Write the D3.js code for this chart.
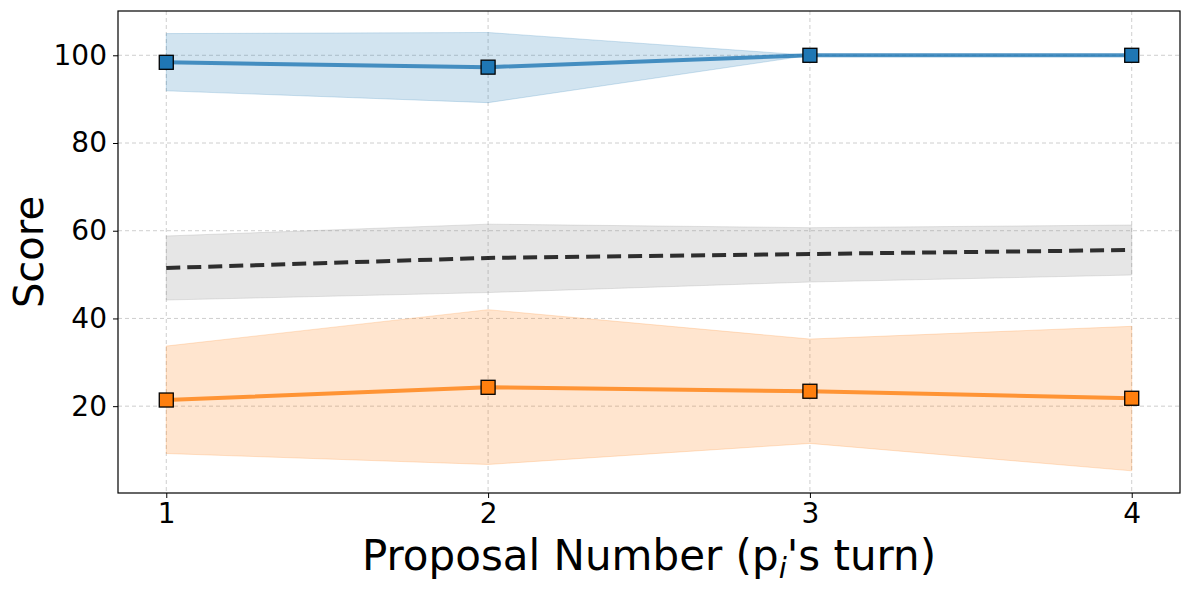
<!DOCTYPE html>
<html>
<head>
<meta charset="utf-8">
<script src="https://cdn.jsdelivr.net/npm/d3@7"></script>
<style>
  body { margin: 0; background: #fff; }
  text { font-family: "DejaVu Sans", sans-serif; }
</style>
</head>
<body>
<svg id="chart"></svg>
<script>
  const proposals = [1, 2, 3, 4];
  const yTicks = [20, 40, 60, 80, 100];

  const blueMean = [98.4, 97.3, 100, 100];
  const blueUpper = [104.95, 105.2, 100, 100];
  const blueLower = [91.9, 89.2, 100, 100];

  const grayMean = [51.5, 53.8, 54.7, 55.6];
  const grayUpper = [58.8, 61.5, 60.7, 61.3];
  const grayLower = [44.2, 45.9, 48.3, 49.9];

  const orangeMean = [21.4, 24.3, 23.4, 21.8];
  const orangeUpper = [33.7, 42.0, 35.3, 38.2];
  const orangeLower = [9.2, 6.7, 11.5, 5.25];

  const WIDTH = 1189;
  const HEIGHT = 590;
  const MARGINS = {top: 11, right: 9, bottom: 97, left: 118};

  const svg = d3.select('#chart')
    .attr('width', WIDTH)
    .attr('height', HEIGHT);

  const x = d3.scaleLinear()
    .domain([0.85, 4.15])
    .range([MARGINS.left, WIDTH - MARGINS.right]);
  const y = d3.scaleLinear()
    .domain([0.2, 110.1])
    .range([HEIGHT - MARGINS.bottom, MARGINS.top]);

  const plotBottom = HEIGHT - MARGINS.bottom;

  // grid
  svg.append('g')
    .selectAll('line')
    .data(proposals)
    .enter().append('line')
    .attr('x1', d => x(d)).attr('x2', d => x(d))
    .attr('y1', MARGINS.top).attr('y2', plotBottom)
    .attr('stroke', '#c8c8c8').attr('stroke-width', 0.9)
    .attr('stroke-dasharray', '4,3');
  svg.append('g')
    .selectAll('line')
    .data(yTicks)
    .enter().append('line')
    .attr('x1', MARGINS.left).attr('x2', WIDTH - MARGINS.right)
    .attr('y1', d => y(d)).attr('y2', d => y(d))
    .attr('stroke', '#c8c8c8').attr('stroke-width', 0.9)
    .attr('stroke-dasharray', '4,3');

  const series = [
    {mean: blueMean, upper: blueUpper, lower: blueLower, fill: '#1f77b4', line: '#1f77b4', dash: null, marker: true},
    {mean: grayMean, upper: grayUpper, lower: grayLower, fill: '#808080', line: '#000000', dash: '14,7', marker: false},
    {mean: orangeMean, upper: orangeUpper, lower: orangeLower, fill: '#ff7f0e', line: '#ff7f0e', dash: null, marker: true}
  ];

  const area = d3.area()
    .x((d, i) => x(proposals[i]))
    .y0(d => y(d[0]))
    .y1(d => y(d[1]));
  const line = d3.line()
    .x((d, i) => x(proposals[i]))
    .y(d => y(d));

  series.forEach(s => {
    const band = s.lower.map((v, i) => [v, s.upper[i]]);
    svg.append('path')
      .attr('d', area(band))
      .attr('fill', s.fill)
      .attr('fill-opacity', 0.2)
      .attr('stroke', s.fill)
      .attr('stroke-opacity', 0.2)
      .attr('stroke-width', 1);
  });

  series.forEach(s => {
    svg.append('path')
      .attr('d', line(s.mean))
      .attr('fill', 'none')
      .attr('stroke', s.line)
      .attr('stroke-opacity', 0.8)
      .attr('stroke-width', 4)
      .attr('stroke-dasharray', s.dash);
    if (s.marker) {
      svg.append('g')
        .selectAll('rect')
        .data(s.mean)
        .enter().append('rect')
        .attr('x', (d, i) => x(proposals[i]) - 7)
        .attr('y', d => y(d) - 7)
        .attr('width', 14).attr('height', 14)
        .attr('fill', s.fill)
        .attr('stroke', '#000')
        .attr('stroke-width', 1.3);
    }
  });

  // frame
  svg.append('rect')
    .attr('x', MARGINS.left).attr('y', MARGINS.top)
    .attr('width', WIDTH - MARGINS.left - MARGINS.right)
    .attr('height', plotBottom - MARGINS.top)
    .attr('fill', 'none').attr('stroke', '#000').attr('stroke-width', 1.2);

  const xAxis = svg.append('g')
    .attr('transform', `translate(0, ${plotBottom})`)
    .call(d3.axisBottom(x).tickValues(proposals).tickFormat(d3.format('d')).tickSize(5).tickPadding(5));
  xAxis.select('.domain').remove();
  xAxis.selectAll('text').attr('font-size', 28).attr('fill', '#000');

  const yAxis = svg.append('g')
    .attr('transform', `translate(${MARGINS.left}, 0)`)
    .call(d3.axisLeft(y).tickValues(yTicks).tickSize(5).tickPadding(6));
  yAxis.select('.domain').remove();
  yAxis.selectAll('text').attr('font-size', 28).attr('fill', '#000');

  svg.append('text')
    .attr('x', (MARGINS.left + WIDTH - MARGINS.right) / 2)
    .attr('y', 570)
    .attr('text-anchor', 'middle')
    .attr('font-size', 42)
    .html("Proposal Number (p<tspan font-style='italic' font-size='29' dy='8'>i</tspan><tspan dy='-8'>'s turn)</tspan>");

  svg.append('text')
    .attr('transform', `translate(43, ${(MARGINS.top + plotBottom) / 2}) rotate(-90)`)
    .attr('text-anchor', 'middle')
    .attr('font-size', 40)
    .text('Score');
</script>
</body>
</html>
